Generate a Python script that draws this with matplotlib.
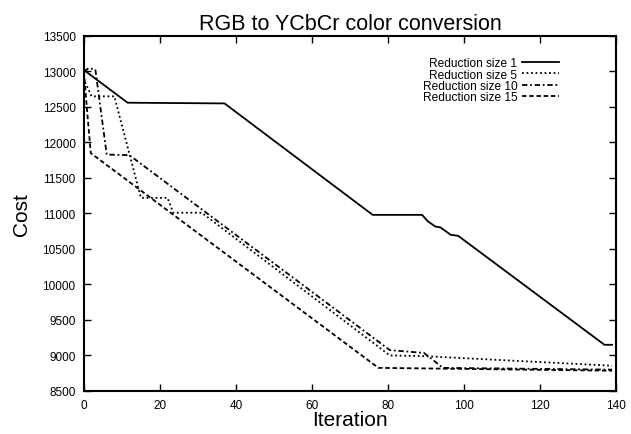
import matplotlib
matplotlib.use("Agg")
import matplotlib.pyplot as plt

plt.rcParams['font.family'] = ['Liberation Sans', 'DejaVu Sans']

# reduction size 1
x1 = [0, 11.5, 37, 76, 89, 90.5, 92.5, 93.8, 96.5, 98.5, 137, 139]
y1 = [13020, 12560, 12550, 10980, 10980, 10890, 10815, 10805, 10700, 10685, 9150, 9150]
# reduction size 5
x5 = [0.3, 2, 8, 15, 22, 23.5, 31, 80.5, 89.5, 139]
y5 = [12850, 12650, 12650, 11220, 11220, 11010, 11010, 9000, 8990, 8855]
# reduction size 10
x10 = [0, 1.2, 3, 6, 12, 80.5, 89.5, 94.5, 139]
y10 = [13000, 13045, 13030, 11830, 11820, 9075, 9035, 8825, 8800]
# reduction size 15
x15 = [0, 0.8, 1.8, 77.5, 139]
y15 = [13000, 12470, 11850, 8825, 8785]

labels = ["Reduction size 1", "Reduction size 5", "Reduction size 10", "Reduction size 15"]

fig = plt.figure(figsize=(6.31, 4.35), dpi=100)
ax = fig.add_axes([0.133, 0.099, 0.843, 0.816])

ax.plot(x1, y1, color="black", lw=1.3, ls="-", label=labels[0])
ax.plot(x5, y5, color="black", lw=1.3, ls=(0, (1, 1.5)), label=labels[1])
ax.plot(x10, y10, color="black", lw=1.3, ls=(0, (3, 1.5, 1, 1.5)), label=labels[2])
ax.plot(x15, y15, color="black", lw=1.3, ls=(0, (2.5, 1.5)), label=labels[3])

ax.set_xlim(0, 140)
ax.set_ylim(8500, 13500)
ax.set_xticks(range(0, 141, 20))
ax.set_yticks(range(8500, 13501, 500))
ax.tick_params(direction="in", top=True, right=True, labelsize=8.5, length=5, width=1)
ax.tick_params(axis="x", pad=6)
ax.tick_params(axis="y", pad=6)
for s in ax.spines.values():
    s.set_linewidth(1.5)

ax.set_xlabel("Iteration", fontsize=15, labelpad=-1)
ax.set_ylabel("Cost", fontsize=15, labelpad=8)
ax.set_title("RGB to YCbCr color conversion", fontsize=15.5, pad=5)

leg = ax.legend(loc="upper right", bbox_to_anchor=(0.893, 0.94), frameon=False, fontsize=8.6,
                markerfirst=False, handlelength=3.1, labelspacing=-0.05, handletextpad=0.4,
                borderpad=0, borderaxespad=0)
for t in leg.get_texts():
    t.set_ha("right")

fig.savefig("out.png", dpi=100)
